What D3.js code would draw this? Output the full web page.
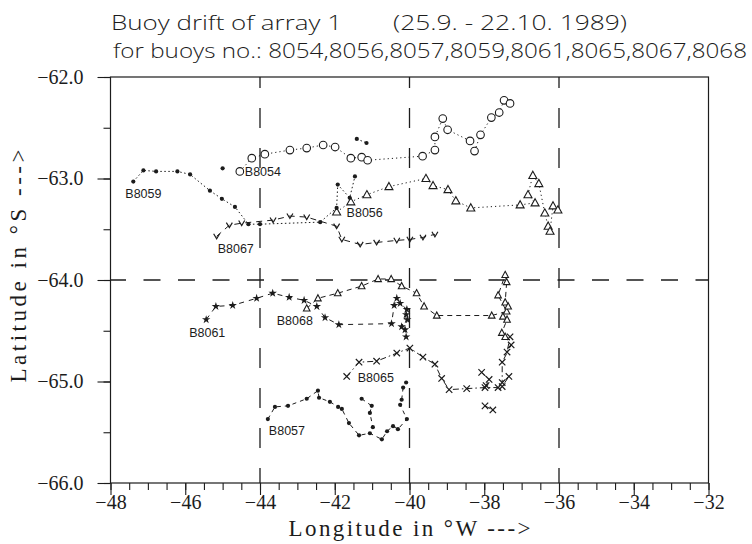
<!DOCTYPE html>
<html>
<head>
<meta charset="utf-8">
<script src="https://cdn.jsdelivr.net/npm/d3@7"></script>
<style>
  html, body { margin: 0; padding: 0; background: #fff; }
  svg { display: block; }
</style>
</head>
<body>
<div id="chart"></div>
<script>
// Axis ticks and reference grid (degrees)
const lonTicks = [-48, -46, -44, -42, -40, -38, -36, -34, -32];
const latTicks = [-62, -63, -64, -65, -66];
const refLons = [-44, -40, -36];
const refLats = [-64];

// Buoy fixes as [longitude, latitude]; null breaks the track
const buoy8054 = [[-44.54,-62.93],[-44.22,-62.80],[-43.87,-62.76],[-43.20,-62.72],[-42.75,-62.70],
  [-42.31,-62.67],[-41.99,-62.69],[-41.57,-62.80],[-41.28,-62.79],[-41.12,-62.82],[-39.65,-62.78],
  [-39.32,-62.72],[-39.32,-62.59],[-39.11,-62.41],[-38.98,-62.52],[-38.38,-62.63],[-38.26,-62.73],
  [-38.10,-62.57],[-37.81,-62.40],[-37.60,-62.35],[-37.47,-62.23],[-37.31,-62.26]];
const buoy8056 = [[-41.95,-63.33],[-41.57,-63.23],[-41.14,-63.16],[-40.55,-63.08],[-39.56,-63.00],
  [-39.37,-63.07],[-38.97,-63.11],[-38.76,-63.22],[-38.36,-63.29],[-37.04,-63.26],[-36.64,-63.24],
  [-36.83,-63.16],[-36.70,-62.97],[-36.54,-63.05],[-36.38,-63.34],[-36.29,-63.47],[-36.24,-63.52],
  [-36.16,-63.27],[-36.03,-63.31]];
const buoy8057 = [[-43.79,-65.37],[-43.60,-65.25],[-43.25,-65.24],[-42.75,-65.17],[-42.45,-65.09],
  [-42.42,-65.16],[-42.13,-65.20],[-41.91,-65.25],[-41.81,-65.27],[-41.62,-65.41],[-41.35,-65.53],
  [-41.06,-65.51],[-40.74,-65.57],[-40.60,-65.49],[-40.44,-65.44],[-40.31,-65.47],[-40.07,-65.37],
  [-40.25,-65.23],[-40.21,-65.18],[-40.17,-65.06],[-40.09,-65.01],
  null,[-41.28,-65.17],[-41.01,-65.24],[-41.06,-65.31],[-40.98,-65.45]];
const buoy8059 = [[-47.39,-63.03],[-47.12,-62.92],[-46.78,-62.93],[-46.21,-62.93],[-45.87,-62.96],
  [-45.34,-63.12],[-45.02,-63.20],[-44.67,-63.28],[-44.31,-63.45],[-44.00,-63.45],[-42.39,-63.43],
  [-41.95,-63.29],[-41.92,-63.06],[-41.60,-63.19],[-41.46,-62.98],
  null,[-41.41,-62.61],[-41.15,-62.65],
  null,[-45.00,-62.90]];
const buoy8061 = [[-45.44,-64.39],[-45.18,-64.26],[-44.73,-64.25],[-44.09,-64.18],[-43.66,-64.13],
  [-43.22,-64.17],[-42.82,-64.20],[-42.48,-64.26],[-42.26,-64.37],[-41.89,-64.44],[-40.48,-64.43],
  [-40.41,-64.25],[-40.34,-64.18],[-40.25,-64.23],[-40.07,-64.29],[-40.09,-64.34],[-40.21,-64.46],
  [-40.06,-64.39],[-40.12,-64.49],[-40.09,-64.56]];
const buoy8065 = [[-41.68,-64.95],[-41.35,-64.81],[-40.88,-64.80],[-40.34,-64.72],[-39.99,-64.67],
  [-39.64,-64.76],[-39.32,-64.83],[-39.14,-64.97],[-38.94,-65.08],[-38.47,-65.07],[-37.98,-65.06],
  [-37.63,-65.06],[-37.52,-65.05],[-37.34,-64.95],[-37.52,-65.01],[-37.52,-64.81],[-37.28,-64.64],
  [-37.39,-64.71],[-37.31,-64.56],
  null,[-38.07,-64.91],[-37.87,-64.98],[-37.95,-65.04],
  null,[-37.98,-65.24],[-37.77,-65.28]];
const buoy8067 = [[-45.16,-63.57],[-44.82,-63.46],[-44.49,-63.44],[-43.65,-63.41],[-43.20,-63.37],
  [-42.75,-63.38],[-41.95,-63.47],[-41.81,-63.60],[-41.32,-63.65],[-40.88,-63.63],[-40.34,-63.61],
  [-39.99,-63.60],[-39.64,-63.58],[-39.32,-63.55]];
const buoy8068 = [[-42.75,-64.28],[-42.45,-64.18],[-41.92,-64.13],[-41.28,-64.06],[-40.84,-63.99],
  [-40.49,-63.99],[-40.21,-64.06],[-39.81,-64.13],[-39.61,-64.26],[-39.27,-64.35],[-37.80,-64.35],
  [-37.40,-64.31],[-37.63,-64.15],[-37.44,-63.95],[-37.40,-64.02],[-37.44,-64.22],[-37.36,-64.26],
  [-37.50,-64.36],[-37.39,-64.39],[-37.53,-64.52],[-37.44,-64.56]];

const buoyNames = ["B8054","B8056","B8057","B8059","B8061","B8065","B8067","B8068"];
const buoyTracks = [buoy8054, buoy8056, buoy8057, buoy8059, buoy8061, buoy8065, buoy8067, buoy8068];

// Drawing style per buoy: marker kind, line dashes, label offset from first fix (px)
const styles = {
  B8054: { marker: "circle",   dash: "1.2,3",     label: [5, 5] },
  B8056: { marker: "triangle", dash: "1.2,3",     label: [10, 5] },
  B8057: { marker: "dot",      dash: "4,4",       label: [1, 16] },
  B8059: { marker: "dot",      dash: "1.5,2.5",   label: [-8, 16] },
  B8061: { marker: "star",     dash: "5,5",       label: [-17, 17] },
  B8065: { marker: "x",        dash: "6,3,1.5,3", label: [11, 6] },
  B8067: { marker: "v",        dash: "6,5",       label: [1, 17] },
  B8068: { marker: "smalltri", dash: "5,4",       label: [-30, 17] }
};

const W = 752, H = 544;
const ink = "#1c1c1c";
const x = d3.scaleLinear().domain([-48, -32]).range([110.5, 708.5]);
const y = d3.scaleLinear().domain([-62, -66]).range([77, 483]);

const svg = d3.select("#chart").append("svg").attr("width", W).attr("height", H);

// Title
const title = svg.append("g").attr("fill", ink)
  .style("font-family", "'Open Sans', 'Liberation Sans', sans-serif")
  .style("font-weight", 300).style("font-size", "20px");
title.append("text").attr("x", 111).attr("y", 30)
  .attr("textLength", 231).attr("lengthAdjust", "spacingAndGlyphs")
  .text("Buoy drift of array 1");
title.append("text").attr("x", 393).attr("y", 30)
  .attr("textLength", 234).attr("lengthAdjust", "spacingAndGlyphs")
  .text("(25.9.  -  22.10. 1989)");
title.append("text").attr("x", 113).attr("y", 57.5)
  .attr("textLength", 634).attr("lengthAdjust", "spacingAndGlyphs")
  .text("for buoys no.: " + buoyNames.map(n => n.slice(1)).join(","));

// Reference lines
const grid = svg.append("g").attr("stroke", ink).attr("stroke-width", 1.3).attr("fill", "none");
grid.selectAll("line.v").data(refLons).join("line").attr("class", "v")
  .attr("x1", d => x(d)).attr("x2", d => x(d))
  .attr("y1", y.range()[0]).attr("y2", y.range()[1])
  .attr("stroke-dasharray", "20,20").attr("stroke-dashoffset", 9);
grid.selectAll("line.h").data(refLats).join("line").attr("class", "h")
  .attr("y1", d => y(d)).attr("y2", d => y(d))
  .attr("x1", x.range()[0]).attr("x2", x.range()[1])
  .attr("stroke-dasharray", "17,17.5").attr("stroke-dashoffset", 1.5);

// Frame
svg.append("rect")
  .attr("x", x.range()[0]).attr("y", y.range()[0])
  .attr("width", x.range()[1] - x.range()[0]).attr("height", y.range()[1] - y.range()[0])
  .attr("fill", "none").attr("stroke", ink).attr("stroke-width", 1.2);

// Axes
const tickFont = "'Liberation Serif', 'DejaVu Serif', serif";
const minorLon = d3.range(-48, -31.99, 0.5);
const minorLat = d3.range(-62, -66.01, -0.5);

const xMinor = svg.append("g").attr("transform", `translate(0,${y.range()[1]})`)
  .call(d3.axisBottom(x).tickValues(minorLon).tickSize(7).tickFormat(""));
const xMajor = svg.append("g").attr("transform", `translate(0,${y.range()[1]})`)
  .call(d3.axisBottom(x).tickValues(lonTicks).tickSize(12).tickFormat(d3.format(".0f")));
xMajor.selectAll("text").attr("y", 26).attr("dy", 0);

const yMinor = svg.append("g").attr("transform", `translate(${x.range()[0]},0)`)
  .call(d3.axisLeft(y).tickValues(minorLat).tickSize(7).tickFormat(""));
const yMajor = svg.append("g").attr("transform", `translate(${x.range()[0]},0)`)
  .call(d3.axisLeft(y).tickValues(latTicks).tickSize(13).tickFormat(d3.format(".1f")));
yMajor.selectAll("text").attr("x", -27);

[xMinor, xMajor, yMinor, yMajor].forEach(g => {
  g.select(".domain").remove();
  g.selectAll("line").attr("stroke", ink).attr("stroke-width", 1.1);
  g.selectAll("text").attr("fill", ink)
    .style("font-family", tickFont).style("font-size", "20px");
});

// Axis titles
svg.append("text")
  .attr("x", x(-40)).attr("y", 536).attr("text-anchor", "middle")
  .attr("textLength", 242).attr("lengthAdjust", "spacing")
  .attr("fill", ink).style("font-family", tickFont).style("font-size", "23px")
  .text("Longitude in °W --->");
svg.append("text")
  .attr("transform", "translate(26,266) rotate(-90)").attr("text-anchor", "middle")
  .attr("textLength", 233).attr("lengthAdjust", "spacing")
  .attr("fill", ink).style("font-family", tickFont).style("font-size", "23px")
  .text("Latitude in °S --->");

// Marker shapes
function drawMarker(g, kind) {
  switch (kind) {
    case "circle":
      g.append("circle").attr("r", 3.8).attr("fill", "#fff").attr("stroke", ink).attr("stroke-width", 1.1);
      break;
    case "triangle":
      g.append("path").attr("d", "M0,-4.2L4,3L-4,3Z").attr("fill", "#fff").attr("stroke", ink).attr("stroke-width", 1.1);
      break;
    case "smalltri":
      g.append("path").attr("d", "M0,-3.6L3.3,2.6L-3.3,2.6Z").attr("fill", "#fff").attr("stroke", ink).attr("stroke-width", 1.1);
      break;
    case "dot":
      g.append("circle").attr("r", 2.1).attr("fill", ink);
      break;
    case "star":
      g.append("path").attr("d", d3.symbol(d3.symbolStar, 22)()).attr("fill", ink);
      break;
    case "x":
      g.append("path").attr("d", "M-3.2,-3.2L3.2,3.2M-3.2,3.2L3.2,-3.2").attr("stroke", ink).attr("stroke-width", 1.2);
      break;
    case "v":
      g.append("path").attr("d", "M-3,-2.6L0,2.4L3,-2.6").attr("fill", "none").attr("stroke", ink).attr("stroke-width", 1.2);
      break;
  }
}

const line = d3.line().defined(d => d !== null).x(d => x(d[0])).y(d => y(d[1]));
const tracks = svg.append("g");

buoyNames.forEach((name, i) => {
  const data = buoyTracks[i];
  const st = styles[name];
  const g = tracks.append("g");
  g.append("path").datum(data).attr("d", line)
    .attr("fill", "none").attr("stroke", ink).attr("stroke-width", 1)
    .attr("stroke-dasharray", st.dash);
  g.selectAll("g.m").data(data.filter(d => d !== null)).join("g").attr("class", "m")
    .attr("transform", d => `translate(${x(d[0])},${y(d[1])})`)
    .each(function() { drawMarker(d3.select(this), st.marker); });
  const first = data[0];
  g.append("text")
    .attr("x", x(first[0]) + st.label[0]).attr("y", y(first[1]) + st.label[1])
    .attr("fill", ink)
    .style("font-family", "'Liberation Sans', Arial, sans-serif").style("font-size", "12.5px")
    .text(name);
});
</script>
</body>
</html>
